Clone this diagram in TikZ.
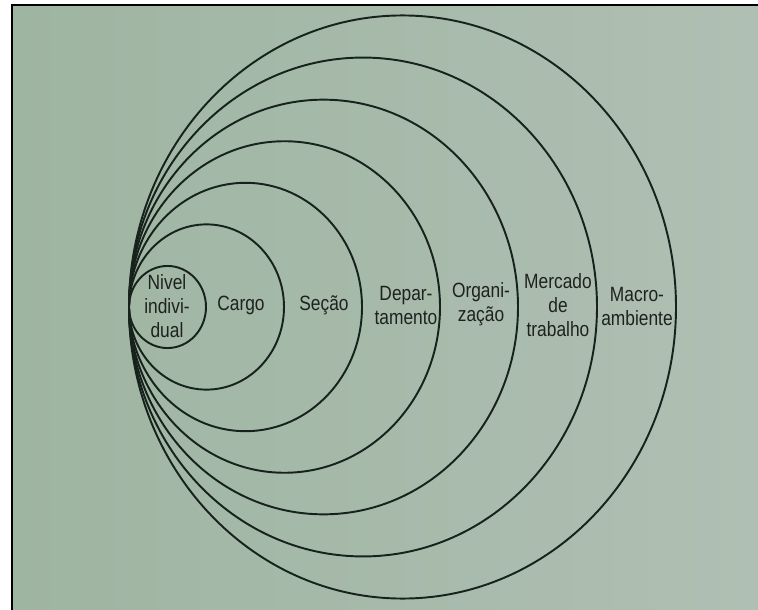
\documentclass[tikz,border=0pt]{standalone}
\usepackage{fontspec}
\usetikzlibrary{calc}
\newfontfamily\labfont[FakeStretch=0.84]{Liberation Sans}
\definecolor{bgL}{RGB}{158,181,161}
\definecolor{bgR}{RGB}{176,191,179}
\definecolor{ink}{RGB}{24,34,28}
\definecolor{txt}{RGB}{30,34,30}
\tikzset{
  ring/.style={draw=ink, line width=1.45pt},
  lab/.style={align=center, text=txt, inner sep=0pt,
    font=\labfont\fontsize{15.5}{18}\selectfont}
}
\begin{document}
\begin{tikzpicture}[x=0.75pt,y=-0.75pt]
\useasboundingbox (0,0) rectangle (758,610);
\fill[white] (0,0) rectangle (758,610);
\shade[left color=bgL, right color=bgR] (12,5) rectangle (758,610);
\draw[black, line width=1.5pt] (12,610) -- (12,5) -- (758,5);
% rings tangent at left point (129,307)
\coordinate (T) at (129,307);
\foreach \r in {38.5,77.5,116.5,155.5,194.5,234,273.5}{
  \draw[ring] ($(T)+(\r,0)$) ellipse [x radius=\r, y radius={1.066*\r}];
}
\node[lab] (n1) at (167,306) {Nivel\\indivi-\\dual};
\node[lab] (n2) at (241,305) {Cargo};
\node[lab] (n3) at (324,305) {Seção};
\node[lab] (n4) at (406,305) {Depar-\\tamento};
\node[lab] (n5) at (481,304) {Organi-\\zação};
\node[lab] (n6) at (558,305) {Mercado\\de\\trabalho};
\node[lab] (n7) at (637,306) {Macro-\\ambiente};
\end{tikzpicture}
\end{document}
